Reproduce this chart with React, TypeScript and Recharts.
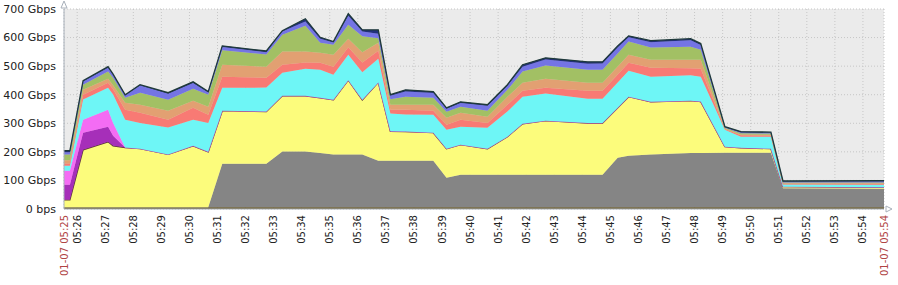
import { AreaChart, Area, XAxis, YAxis, CartesianGrid } from "recharts";

// sample times, minutes past 05:00
const minutes = [
  25.53, 25.74, 26.21, 27.1, 27.28, 27.71, 28.24, 29.24, 30.13, 30.67,
  31.17, 32.74, 33.31, 34.13, 34.66, 35.13, 35.66, 36.16, 36.73, 37.16,
  37.7, 38.69, 39.16, 39.66, 40.62, 41.33, 41.87, 42.69, 44.19, 44.72,
  45.26, 45.65, 46.44, 47.86, 48.22, 49.08, 49.65, 50.72, 51.15, 54.75,
];

// stacked layers, bottom to top (Gbps each)
const base = Array(40).fill(6);
const grey = [
  0, 0, 0, 0, 0, 0, 0, 0, 0, 0,
  152, 152, 195, 195, 190, 185, 185, 185, 163, 163,
  163, 163, 103, 114, 114, 114, 114, 114, 114, 114,
  173, 180, 185, 190, 190, 191, 191, 191, 67, 65,
];
const yellow = [
  26, 26, 201, 229, 215, 209, 205, 185, 215, 194,
  186, 183, 195, 195, 193, 191, 260, 191, 274, 103,
  102, 98, 102, 105, 91, 133, 178, 189, 181, 181,
  175, 207, 184, 183, 180, 21, 17, 14, 5, 5,
];
const purple = [
  53, 53, 60, 53, 35, 0, 0, 0, 0, 0,
  0, 0, 0, 0, 0, 0, 0, 0, 0, 0,
  0, 0, 0, 0, 0, 0, 0, 0, 0, 0,
  0, 0, 0, 0, 0, 0, 0, 0, 0, 0,
];
const pink = [
  49, 49, 45, 59, 45, 0, 0, 0, 0, 0,
  0, 0, 0, 0, 0, 0, 0, 0, 0, 0,
  0, 0, 0, 0, 0, 0, 0, 0, 0, 0,
  0, 0, 0, 0, 0, 0, 0, 0, 0, 0,
];
const cyan = [
  17, 17, 71, 77, 100, 97, 90, 94, 91, 101,
  80, 84, 81, 95, 98, 88, 89, 97, 83, 62,
  60, 63, 66, 63, 73, 88, 95, 95, 85, 85,
  89, 91, 88, 89, 87, 59, 39, 42, 8, 9,
];
const salmon = [
  8, 8, 17, 18, 18, 35, 36, 27, 42, 29,
  39, 34, 28, 22, 25, 28, 26, 34, 28, 13,
  16, 14, 18, 24, 17, 24, 21, 20, 28, 28,
  28, 28, 31, 25, 28, 3, 5, 4, 2, 3,
];
const tan = [
  12, 12, 17, 14, 14, 25, 28, 32, 25, 28,
  42, 39, 46, 38, 35, 42, 30, 36, 28, 18,
  18, 21, 24, 25, 22, 28, 28, 32, 28, 28,
  28, 28, 28, 29, 31, 2, 3, 3, 2, 2,
];
const green = [
  20, 20, 18, 25, 26, 17, 42, 38, 42, 42,
  51, 43, 59, 90, 35, 35, 49, 56, 16, 19,
  28, 24, 21, 21, 21, 24, 39, 46, 45, 45,
  45, 46, 43, 46, 35, 2, 4, 4, 3, 3,
];
const blue = [
  8, 8, 11, 13, 10, 9, 25, 21, 20, 8,
  11, 8, 11, 15, 14, 8, 31, 16, 15, 12,
  18, 17, 11, 13, 17, 14, 17, 21, 21, 22,
  21, 15, 19, 23, 17, 2, 3, 3, 3, 3,
];
const navy = [
  5, 5, 3, 4, 3, 2, 3, 4, 4, 3,
  4, 4, 3, 10, 5, 3, 8, 6, 14, 4,
  6, 5, 3, 4, 4, 4, 7, 6, 7, 6,
  6, 5, 5, 5, 5, 2, 3, 2, 2, 3,
];

const yTicks = [0, 100, 200, 300, 400, 500, 600, 700];
const minuteTicks = [
  26, 27, 28, 29, 30, 31, 32, 33, 34, 35, 36, 37, 38, 39, 40,
  41, 42, 43, 44, 45, 46, 47, 48, 49, 50, 51, 52, 53, 54,
];
const rangeStart = 25.53;
const rangeEnd = 54.75;
const rangeLabels = ["01-07 05:25", "01-07 05:54"];

const layers = [
  { key: "base", values: base, color: "#6a5a2d" },
  { key: "grey", values: grey, color: "#858585" },
  { key: "yellow", values: yellow, color: "#fcfc7c", line: "#5a3838" },
  { key: "purple", values: purple, color: "#a62fb9" },
  { key: "pink", values: pink, color: "#f46cf4" },
  { key: "cyan", values: cyan, color: "#6ef6f6" },
  { key: "salmon", values: salmon, color: "#f87a74" },
  { key: "tan", values: tan, color: "#e2a072" },
  { key: "green", values: green, color: "#a2c064" },
  { key: "blue", values: blue, color: "#7474e4" },
  { key: "navy", values: navy, color: "#22307a", line: "#1f3a3a" },
];

const data = minutes.map((m, i) => {
  const row: Record<string, number> = { m };
  layers.forEach((l) => (row[l.key] = l.values[i]));
  return row;
});

const FONT = "DejaVu Sans, sans-serif";

function TimeTick({ x, y, payload }: any) {
  const v = payload.value;
  const edge = v === rangeStart || v === rangeEnd;
  const label =
    v === rangeStart ? rangeLabels[0] : v === rangeEnd ? rangeLabels[1] : `05:${String(v).padStart(2, "0")}`;
  return (
    <text
      x={x}
      y={y}
      dy="0.35em"
      transform={`rotate(-90 ${x} ${y})`}
      textAnchor="end"
      fontSize={10}
      fontFamily={FONT}
      fill={edge ? "#b04444" : "#222"}
    >
      {label}
    </text>
  );
}

export default function App() {
  return (
    <div style={{ position: "absolute", left: 0, top: 0, width: 898, height: 285, background: "#fff" }}>
      <AreaChart width={898} height={285} data={data} margin={{ top: 9, right: 14, left: 0, bottom: 0 }}>
        <CartesianGrid stroke="#c6c6c6" strokeDasharray="1 2" fill="#ebebeb" />
        <XAxis
          dataKey="m"
          type="number"
          domain={[rangeStart, rangeEnd]}
          ticks={[rangeStart, ...minuteTicks, rangeEnd]}
          interval={0}
          height={76}
          tick={<TimeTick />}
          tickLine={false}
          tickSize={6}
          tickMargin={0}
          axisLine={{ stroke: "#a8b0ba" }}
        />
        <YAxis
          type="number"
          domain={[0, 700]}
          ticks={yTicks}
          width={64}
          tickLine={false}
          axisLine={{ stroke: "#a8b0ba" }}
          tick={{ fontSize: 11, fill: "#222", fontFamily: FONT }}
          tickFormatter={(v: number) => (v === 0 ? "0 bps" : `${v} Gbps`)}
        />
        {layers.map((l) => (
          <Area
            key={l.key}
            type="linear"
            dataKey={l.key}
            stackId="1"
            fill={l.color}
            fillOpacity={1}
            stroke={l.line ?? l.color}
            strokeWidth={l.line ? 1.3 : 0.5}
            dot={false}
            activeDot={false}
            isAnimationActive={false}
          />
        ))}
      </AreaChart>
      <svg width={898} height={285} style={{ position: "absolute", left: 0, top: 0, pointerEvents: "none" }}>
        <polygon points="61,8 67,8 64,1" fill="#fff" stroke="#a8b0ba" />
        <polygon points="886,206 886,212 892,209" fill="#fff" stroke="#a8b0ba" />
      </svg>
    </div>
  );
}
